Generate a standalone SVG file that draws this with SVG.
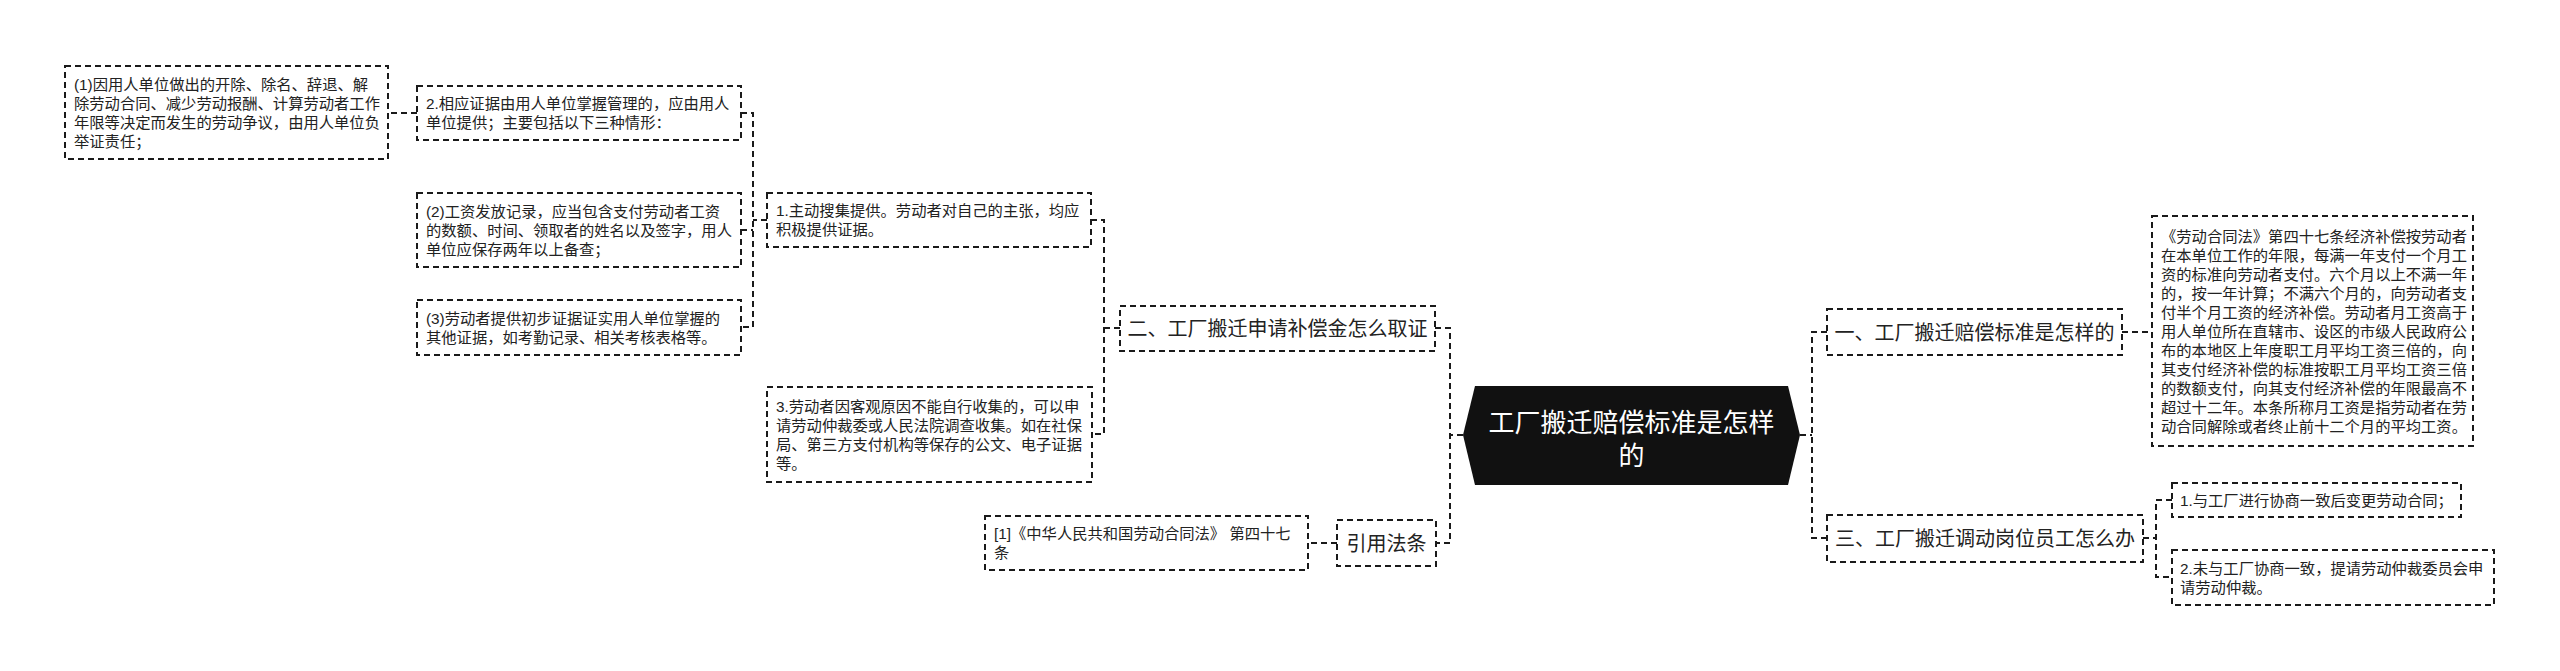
<svg xmlns="http://www.w3.org/2000/svg" width="2560" height="671" viewBox="0 0 2560 671">
<style>
.bg{fill:#ffffff}
.box{fill:#ffffff;stroke:#1a1a1a;stroke-width:2;stroke-dasharray:6 4}
.conn path{fill:none;stroke:#1a1a1a;stroke-width:2;stroke-dasharray:6 4}
.t{font-family:"Liberation Sans","Noto Sans CJK SC",sans-serif;font-size:15.3px;fill:#222}
.b{font-family:"Liberation Sans","Noto Sans CJK SC",sans-serif;font-size:20px;fill:#222;text-anchor:middle}
.c{font-family:"Liberation Sans","Noto Sans CJK SC",sans-serif;font-size:26px;fill:#ffffff;text-anchor:middle}
</style>
<rect class="bg" x="0" y="0" width="2560" height="671"/>
<g id="connectors" class="conn">
<path d="M1463,435 H1450"/>
<path d="M1435,328 H1450 V543 H1436"/>
<path d="M1120,328 H1104"/>
<path d="M1091,220 H1104 V434 H1092"/>
<path d="M767,220 H753"/>
<path d="M741,113 H753 V327 H741"/>
<path d="M741,230 H753"/>
<path d="M417,113 H388"/>
<path d="M1337,543 H1308"/>
<path d="M1800,435 H1812"/>
<path d="M1827,332 H1812 V538 H1827"/>
<path d="M2122,332 H2152"/>
<path d="M2143,538 H2156"/>
<path d="M2172,500 H2156 V577 H2172"/>
</g>
<g id="central">
<polygon points="1463,435 1475,386 1788,386 1800,435 1788,485 1475,485" fill="#111111"/>
<text class="c" x="1631.5" y="432">工厂搬迁赔偿标准是怎样</text>
<text class="c" x="1631.5" y="465">的</text>
</g>
<g id="n-er">
<rect class="box" x="1120" y="306" width="315" height="45"/>
<text class="b" x="1277.5" y="336">二、工厂搬迁申请补偿金怎么取证</text>
</g>
<g id="n-yinyong">
<rect class="box" x="1337" y="520" width="99" height="46"/>
<text class="b" x="1386.5" y="550.5">引用法条</text>
</g>
<g id="n-law-ref">
<rect class="box" x="985" y="516" width="323" height="54"/>
<text class="t" x="994" y="539.2">[1]《中华人民共和国劳动合同法》 第四十七</text>
<text class="t" x="994" y="558.2">条</text>
</g>
<g id="n-zhudong">
<rect class="box" x="767" y="193" width="324" height="54"/>
<text class="t" x="776" y="216.2">1.主动搜集提供。劳动者对自己的主张，均应</text>
<text class="t" x="776" y="235.2">积极提供证据。</text>
</g>
<g id="n-keguan">
<rect class="box" x="767" y="387" width="325" height="95"/>
<text class="t" x="776" y="411.7">3.劳动者因客观原因不能自行收集的，可以申</text>
<text class="t" x="776" y="430.7">请劳动仲裁委或人民法院调查收集。如在社保</text>
<text class="t" x="776" y="449.7">局、第三方支付机构等保存的公文、电子证据</text>
<text class="t" x="776" y="468.7">等。</text>
</g>
<g id="n-xiangying">
<rect class="box" x="417" y="86" width="324" height="54"/>
<text class="t" x="426" y="109.2">2.相应证据由用人单位掌握管理的，应由用人</text>
<text class="t" x="426" y="128.2">单位提供；主要包括以下三种情形：</text>
</g>
<g id="n-p1">
<rect class="box" x="65" y="66" width="323" height="93"/>
<text class="t" x="74" y="89.7">(1)因用人单位做出的开除、除名、辞退、解</text>
<text class="t" x="74" y="108.7">除劳动合同、减少劳动报酬、计算劳动者工作</text>
<text class="t" x="74" y="127.7">年限等决定而发生的劳动争议，由用人单位负</text>
<text class="t" x="74" y="146.7">举证责任；</text>
</g>
<g id="n-p2">
<rect class="box" x="417" y="193" width="324" height="74"/>
<text class="t" x="426" y="216.7">(2)工资发放记录，应当包含支付劳动者工资</text>
<text class="t" x="426" y="235.7">的数额、时间、领取者的姓名以及签字，用人</text>
<text class="t" x="426" y="254.7">单位应保存两年以上备查；</text>
</g>
<g id="n-p3">
<rect class="box" x="417" y="300" width="324" height="55"/>
<text class="t" x="426" y="323.7">(3)劳动者提供初步证据证实用人单位掌握的</text>
<text class="t" x="426" y="342.7">其他证据，如考勤记录、相关考核表格等。</text>
</g>
<g id="n-yi">
<rect class="box" x="1827" y="309" width="295" height="46"/>
<text class="b" x="1974.5" y="339.6">一、工厂搬迁赔偿标准是怎样的</text>
</g>
<g id="n-biaozhun">
<rect class="box" x="2152" y="216" width="321" height="230"/>
<text class="t" x="2161" y="241.7">《劳动合同法》第四十七条经济补偿按劳动者</text>
<text class="t" x="2161" y="260.7">在本单位工作的年限，每满一年支付一个月工</text>
<text class="t" x="2161" y="279.7">资的标准向劳动者支付。六个月以上不满一年</text>
<text class="t" x="2161" y="298.7">的，按一年计算；不满六个月的，向劳动者支</text>
<text class="t" x="2161" y="317.7">付半个月工资的经济补偿。劳动者月工资高于</text>
<text class="t" x="2161" y="336.7">用人单位所在直辖市、设区的市级人民政府公</text>
<text class="t" x="2161" y="355.7">布的本地区上年度职工月平均工资三倍的，向</text>
<text class="t" x="2161" y="374.7">其支付经济补偿的标准按职工月平均工资三倍</text>
<text class="t" x="2161" y="393.7">的数额支付，向其支付经济补偿的年限最高不</text>
<text class="t" x="2161" y="412.7">超过十二年。本条所称月工资是指劳动者在劳</text>
<text class="t" x="2161" y="431.7">动合同解除或者终止前十二个月的平均工资。</text>
</g>
<g id="n-san">
<rect class="box" x="1827" y="515" width="316" height="47"/>
<text class="b" x="1985" y="546">三、工厂搬迁调动岗位员工怎么办</text>
</g>
<g id="n-xieshang">
<rect class="box" x="2172" y="483" width="289" height="34"/>
<text class="t" x="2180" y="505.7">1.与工厂进行协商一致后变更劳动合同；</text>
</g>
<g id="n-zhongcai">
<rect class="box" x="2172" y="550" width="322" height="55"/>
<text class="t" x="2180" y="573.7">2.未与工厂协商一致，提请劳动仲裁委员会申</text>
<text class="t" x="2180" y="592.7">请劳动仲裁。</text>
</g>
</svg>
